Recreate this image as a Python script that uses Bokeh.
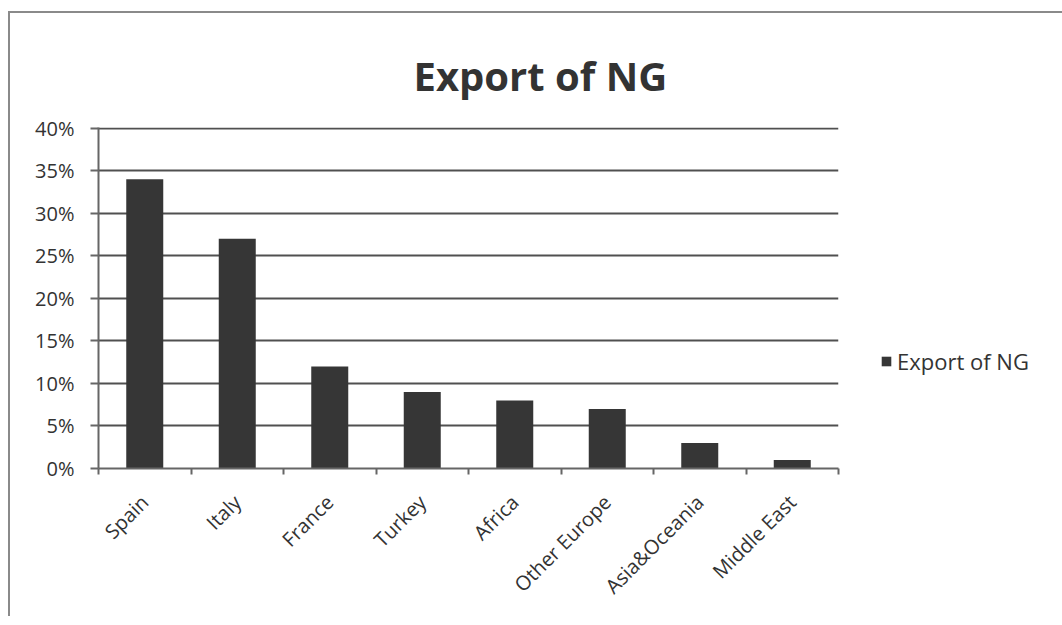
import math
from bokeh.plotting import figure
from bokeh.models import (ColumnDataSource, FixedTicker, PrintfTickFormatter, Legend, LegendItem, Range1d)
from bokeh.embed import file_html
from bokeh.resources import INLINE

categories = ["Spain", "Italy", "France", "Turkey", "Africa", "Other Europe", "Asia&Oceania", "Middle East"]
values = [34, 27, 12, 9, 8, 7, 3, 1]
y_ticks = [0, 5, 10, 15, 20, 25, 30, 35, 40]
series_name = "Export of NG"
title_text = "Export of NG"

FONT = "Open Sans"
positions = [i + 0.5 for i in range(len(categories))]
src = ColumnDataSource(dict(x=positions, top=values, cat=categories))

p = figure(frame_width=740, frame_height=341, output_backend="svg", toolbar_location=None,
           x_range=Range1d(0, len(categories)), y_range=Range1d(0, 40.08),
           min_border_left=88, min_border_right=218, min_border_top=114, min_border_bottom=148)
p.margin = (11, 0, 0, 8)
p.styles = {"border-left": "2px solid #8a8a8a", "border-top": "2px solid #8a8a8a"}
p.outline_line_color = None
p.background_fill_color = "white"
p.border_fill_color = "white"

p.title.text = title_text
p.title.align = "left"
p.title.offset = 315
p.title.text_font = FONT
p.title.text_font_size = "40px"
p.title.text_font_style = "bold"
p.title.text_color = "#333333"
p.title.standoff = 49

r = p.vbar(x="x", top="top", width=0.4, source=src, fill_color="#363636", line_color=None)

# y axis
p.yaxis.ticker = FixedTicker(ticks=y_ticks)
p.yaxis.formatter = PrintfTickFormatter(format="%d%%")
p.yaxis.axis_line_color = "#666666"
p.yaxis.axis_line_width = 2
p.yaxis.major_tick_line_color = "#666666"
p.yaxis.major_tick_line_width = 2
p.yaxis.major_tick_in = 0
p.yaxis.major_tick_out = 8
p.yaxis.minor_tick_line_color = None
p.yaxis.major_label_text_font = FONT
p.yaxis.major_label_text_font_size = "20px"
p.yaxis.major_label_text_color = "#333333"
p.yaxis.major_label_standoff = 16

# x axis
p.xaxis.ticker = FixedTicker(ticks=positions, minor_ticks=list(range(len(categories) + 1)))
p.xaxis.major_label_overrides = {pos: c for pos, c in zip(positions, categories)}
p.xaxis.major_label_orientation = math.pi / 4
p.xaxis.axis_line_color = "#666666"
p.xaxis.axis_line_width = 2
p.xaxis.major_tick_line_color = None
p.xaxis.minor_tick_line_color = "#666666"
p.xaxis.minor_tick_line_width = 2
p.xaxis.minor_tick_in = 0
p.xaxis.minor_tick_out = 6
p.xaxis.major_label_text_font = FONT
p.xaxis.major_label_text_font_size = "20px"
p.xaxis.major_label_text_color = "#333333"
p.xaxis.major_label_standoff = 24

p.xgrid.grid_line_color = None
p.ygrid.grid_line_color = "#505050"
p.ygrid.grid_line_width = 2

legend = Legend(items=[LegendItem(label=series_name, renderers=[r])], location=(42, 92),
                label_text_font=FONT, label_text_font_size="22px", label_text_color="#333333",
                glyph_width=12, glyph_height=12, border_line_color=None, background_fill_alpha=0,
                padding=0, margin=0, label_standoff=5)
p.add_layout(legend, "right")

open("out.html", "w").write(file_html(p, INLINE))
